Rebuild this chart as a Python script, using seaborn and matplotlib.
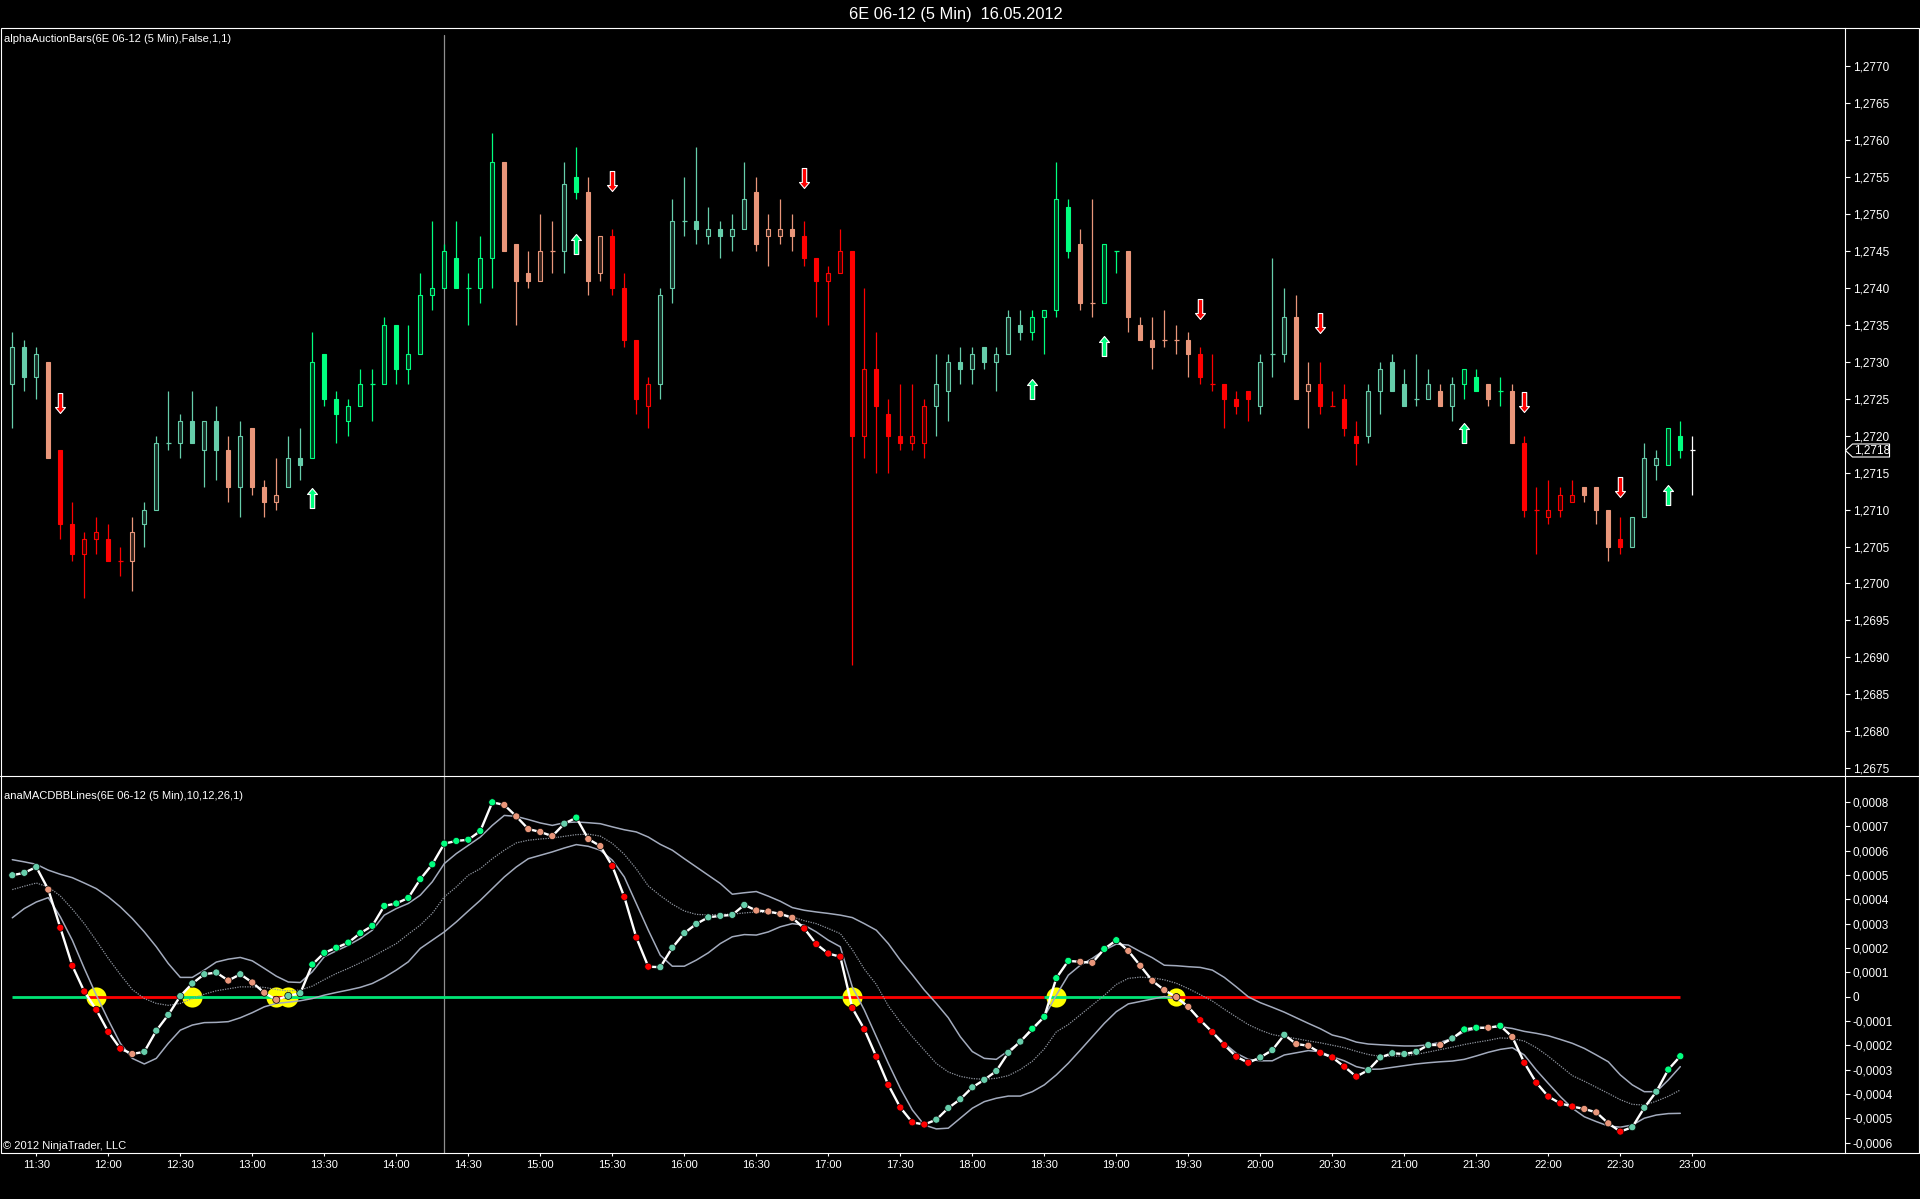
import numpy as np
import pandas as pd
import matplotlib
matplotlib.use("Agg")
import matplotlib.pyplot as plt
import matplotlib.transforms as mtransforms
from matplotlib import font_manager
from matplotlib.colors import to_rgb
from matplotlib.lines import Line2D
from matplotlib.patches import Rectangle
from matplotlib.path import Path
import seaborn as sns

# ---------------- data ----------------
# 5 minute bars of 6E 06-12, first bar 11:20; prices in pips above 1.2700
start_time = "2012-05-16 11:20"

opens = [27, 32, 28, 30, 18, 8, 4, 6, 6, 3,
         3, 8, 10, 19, 19, 22, 18, 22, 18, 13,
         21, 13, 11, 13, 17, 17, 31, 25, 22, 24,
         27, 27, 35, 29, 31, 39, 40, 44, 40, 40,
         44, 57, 46, 42, 41, 45, 45, 55, 53, 42,
         47, 40, 33, 24, 27, 40, 49, 49, 47, 48,
         47, 48, 53, 47, 47, 48, 47, 44, 41, 42,
         45, 20, 29, 23, 20, 19, 19, 24, 26, 30,
         29, 32, 30, 31, 35, 34, 36, 37, 51, 46,
         38, 38, 45, 45, 35, 33, 33, 33, 33, 31,
         27, 27, 25, 26, 24, 31, 31, 36, 26, 27,
         24, 25, 20, 20, 26, 30, 27, 25, 25, 26,
         24, 27, 28, 27, 26, 26, 19, 10, 9, 10,
         11, 13, 13, 10, 6, 5, 9, 16, 16, 20,
         18]
highs = [34, 33, 32, 30, 18, 11, 7, 9, 8, 5,
         9, 11, 20, 26, 23, 26, 22, 24, 20, 22,
         21, 14, 17, 20, 21, 34, 31, 26, 25, 29,
         29, 36, 35, 35, 42, 49, 46, 49, 42, 47,
         61, 57, 46, 45, 50, 49, 57, 59, 55, 47,
         48, 42, 33, 28, 40, 52, 55, 59, 51, 49,
         50, 57, 55, 50, 52, 50, 49, 44, 43, 48,
         45, 40, 34, 25, 27, 27, 25, 31, 31, 32,
         32, 32, 32, 37, 37, 37, 37, 57, 52, 48,
         52, 46, 45, 45, 36, 36, 37, 35, 34, 32,
         31, 27, 26, 26, 31, 44, 40, 39, 30, 30,
         26, 27, 22, 27, 30, 31, 29, 31, 29, 27,
         28, 29, 29, 27, 28, 27, 20, 13, 14, 13,
         14, 13, 13, 10, 9, 9, 19, 18, 21, 22,
         20]
lows = [21, 26, 25, 17, 6, 3, -2, 4, 3, 1,
        -1, 5, 10, 18, 17, 19, 13, 14, 11, 9,
        12, 9, 10, 13, 14, 17, 24, 19, 20, 24,
        22, 27, 27, 27, 31, 37, 40, 40, 35, 38,
        40, 45, 35, 40, 41, 42, 42, 52, 39, 41,
        39, 32, 23, 21, 25, 38, 47, 46, 46, 44,
        45, 48, 45, 43, 46, 45, 43, 36, 35, 42,
        -11, 17, 15, 15, 18, 18, 17, 20, 22, 27,
        27, 29, 26, 31, 33, 33, 31, 36, 44, 37,
        36, 38, 42, 34, 33, 29, 32, 31, 28, 27,
        26, 21, 23, 22, 23, 28, 30, 25, 21, 23,
        24, 20, 16, 19, 23, 26, 24, 24, 25, 24,
        22, 25, 26, 24, 24, 19, 9, 4, 8, 9,
        11, 11, 8, 3, 4, 5, 9, 14, 16, 17,
        12]
closes = [32, 28, 31, 17, 8, 4, 6, 7, 3, 3,
          7, 10, 19, 19, 22, 19, 22, 18, 13, 20,
          13, 11, 12, 17, 16, 30, 25, 23, 24, 27,
          27, 35, 29, 31, 39, 40, 45, 40, 40, 44,
          57, 45, 41, 41, 45, 45, 54, 53, 41, 47,
          40, 33, 25, 27, 39, 49, 49, 48, 48, 47,
          48, 52, 46, 48, 48, 47, 44, 41, 42, 45,
          20, 29, 24, 20, 19, 20, 24, 27, 30, 29,
          31, 30, 31, 36, 34, 36, 37, 52, 45, 38,
          38, 46, 45, 36, 33, 32, 33, 33, 31, 28,
          27, 25, 24, 25, 30, 31, 36, 25, 27, 24,
          24, 21, 19, 26, 29, 26, 24, 25, 27, 24,
          27, 29, 26, 25, 26, 19, 10, 10, 10, 12,
          12, 12, 10, 5, 5, 9, 17, 17, 21, 18,
          18]

# bar state: a = aquamarine, g = spring green, s = salmon, r = red, w = live bar
bar_state = list("aaasrrrrrrsaaaaaaasasssaa" "gggggggggggggggg" "sssssagss"
                 "rrrraaaaaaaassss" "rrrrrrrrrrraaaaaaaaggggssgg" "ssssssrrrrraaass"
                 "rrrraaaaaasaggsgsrrrrrsssraaaggw")

# anaMACDBBLines values in units of 0.0001 (finished bars only)
macd_vals = [4.99, 5.09, 5.33, 4.40, 2.83, 1.27, 0.21, -0.54, -1.45, -2.14,
             -2.36, -2.27, -1.40, -0.75, 0.02, 0.54, 0.92, 0.99, 0.66, 0.92,
             0.58, 0.16, -0.13, 0.03, 0.14, 1.32, 1.80, 2.01, 2.22, 2.61,
             2.91, 3.73, 3.83, 4.06, 4.83, 5.44, 6.29, 6.40, 6.45, 6.81,
             7.99, 7.88, 7.41, 6.89, 6.77, 6.60, 7.11, 7.36, 6.48, 6.19,
             5.37, 4.10, 2.43, 1.23, 1.21, 2.01, 2.61, 2.99, 3.26, 3.32,
             3.36, 3.77, 3.54, 3.50, 3.40, 3.24, 2.80, 2.16, 1.77, 1.64,
             -0.47, -1.34, -2.47, -3.63, -4.56, -5.17, -5.26, -5.06, -4.58, -4.22,
             -3.73, -3.42, -3.06, -2.31, -1.85, -1.32, -0.83, 0.76, 1.47, 1.43,
             1.39, 1.96, 2.32, 1.88, 1.27, 0.65, 0.27, -0.02, -0.42, -0.97,
             -1.46, -1.99, -2.47, -2.72, -2.50, -2.20, -1.57, -1.95, -2.02, -2.31,
             -2.50, -2.88, -3.29, -3.02, -2.50, -2.33, -2.36, -2.27, -1.99, -1.99,
             -1.72, -1.35, -1.28, -1.28, -1.20, -1.66, -2.72, -3.54, -4.11, -4.39,
             -4.52, -4.62, -4.76, -5.21, -5.55, -5.37, -4.57, -3.91, -3.00, -2.45]
upper_vals = [5.63, 5.54, 5.44, 5.20, 5.03, 4.89, 4.67, 4.44, 4.10, 3.69,
              3.21, 2.66, 2.05, 1.36, 0.79, 0.79, 1.09, 1.42, 1.54, 1.61,
              1.47, 1.16, 0.84, 0.60, 0.58, 1.02, 1.64, 1.88, 2.11, 2.39,
              2.73, 3.35, 3.62, 3.83, 4.17, 4.72, 5.47, 5.88, 6.22, 6.56,
              7.04, 7.45, 7.41, 7.28, 7.14, 7.04, 7.15, 7.18, 7.15, 7.11,
              6.98, 6.86, 6.77, 6.56, 6.26, 6.02, 5.67, 5.33, 4.99, 4.65,
              4.21, 4.27, 4.32, 4.13, 3.92, 3.66, 3.55, 3.48, 3.42, 3.35,
              3.25, 3.00, 2.73, 2.18, 1.50, 0.90, 0.27, -0.28, -0.87, -1.65,
              -2.26, -2.54, -2.58, -2.23, -1.86, -1.38, -0.83, 0.06, 0.88, 1.29,
              1.57, 1.91, 2.16, 2.12, 1.85, 1.60, 1.29, 1.27, 1.23, 1.20,
              1.09, 0.79, 0.40, -0.01, -0.25, -0.44, -0.64, -0.87, -1.10, -1.32,
              -1.58, -1.70, -1.87, -1.95, -1.98, -2.01, -2.03, -2.03, -1.98, -1.88,
              -1.72, -1.44, -1.32, -1.27, -1.24, -1.31, -1.43, -1.51, -1.61, -1.76,
              -1.92, -2.13, -2.40, -2.68, -3.22, -3.63, -3.91, -3.91, -3.43, -2.88]
middle_vals = [4.40, 4.54, 4.67, 4.51, 4.14, 3.60, 3.00, 2.30, 1.57, 0.91,
               0.29, -0.08, -0.28, -0.36, -0.28, -0.08, 0.10, 0.24, 0.32, 0.40,
               0.40, 0.38, 0.29, 0.23, 0.27, 0.43, 0.70, 0.95, 1.16, 1.39,
               1.64, 1.91, 2.18, 2.57, 2.94, 3.42, 4.10, 4.51, 4.99, 5.26,
               5.67, 6.02, 6.32, 6.43, 6.48, 6.52, 6.59, 6.66, 6.68, 6.60,
               6.30, 5.85, 5.25, 4.55, 4.15, 3.80, 3.52, 3.38, 3.36, 3.38,
               3.39, 3.44, 3.48, 3.45, 3.42, 3.28, 3.12, 3.00, 2.80, 2.59,
               1.93, 1.13, 0.50, -0.38, -1.05, -1.65, -2.20, -2.75, -3.10, -3.28,
               -3.37, -3.40, -3.36, -3.25, -3.00, -2.66, -2.15, -1.45, -1.15, -0.75,
               -0.35, 0.05, 0.50, 0.75, 0.80, 0.77, 0.69, 0.55, 0.33, 0.08,
               -0.18, -0.52, -0.84, -1.15, -1.38, -1.56, -1.65, -1.73, -1.82, -1.90,
               -2.00, -2.10, -2.25, -2.38, -2.46, -2.46, -2.43, -2.38, -2.28, -2.18,
               -2.08, -1.97, -1.88, -1.80, -1.70, -1.72, -1.83, -2.10, -2.45, -2.85,
               -3.25, -3.48, -3.73, -3.98, -4.24, -4.43, -4.46, -4.30, -4.10, -3.84]
lower_vals = [3.24, 3.62, 3.89, 4.07, 3.28, 2.32, 1.16, 0.06, -0.96, -1.92,
              -2.54, -2.77, -2.54, -1.92, -1.38, -1.17, -1.07, -1.06, -1.03, -0.87,
              -0.66, -0.42, -0.28, -0.23, -0.17, -0.08, 0.06, 0.17, 0.27, 0.38,
              0.54, 0.79, 1.09, 1.43, 1.98, 2.32, 2.66, 3.07, 3.52, 3.96,
              4.44, 4.92, 5.33, 5.67, 5.81, 5.95, 6.11, 6.25, 6.18, 6.02,
              5.61, 4.92, 3.83, 2.73, 1.70, 1.25, 1.25, 1.50, 1.80, 2.18,
              2.46, 2.55, 2.53, 2.66, 2.87, 3.00, 2.94, 2.66, 2.32, 2.05,
              0.40, -0.55, -1.65, -2.74, -3.77, -4.66, -5.28, -5.44, -5.41, -5.00,
              -4.59, -4.32, -4.18, -4.09, -4.09, -3.91, -3.63, -3.22, -2.74, -2.20,
              -1.65, -1.10, -0.62, -0.30, -0.20, -0.10, 0.00, -0.08, -0.42, -0.97,
              -1.45, -1.92, -2.33, -2.58, -2.64, -2.64, -2.40, -2.31, -2.22, -2.27,
              -2.47, -2.64, -2.88, -2.99, -2.98, -2.91, -2.84, -2.77, -2.72, -2.68,
              -2.65, -2.58, -2.44, -2.29, -2.17, -2.10, -2.40, -3.02, -3.57, -4.11,
              -4.59, -4.94, -5.14, -5.32, -5.37, -5.28, -5.00, -4.87, -4.81, -4.80]

# signal arrows (bar index, arrow centre in pips above 1.2700)
down_bars = [4, 50, 66, 99, 109, 126, 134]
down_levels = [24.4, 54.5, 54.9, 37.1, 35.3, 24.6, 13.1]
up_bars = [25, 47, 85, 91, 121, 138]
up_levels = [11.6, 46.0, 26.3, 32.1, 20.3, 12.0]

# MACD zero-line crossings and zero-line trend segments
cross_bars = [7, 15, 22, 23, 70, 87]
cross_open_bars = [97]
zero_bounds = [0, 6.2, 14.0, 21.6, 22.6, 69.2, 86.0, 96.5, 139]
zero_states = ["up", "down", "up", "down", "up", "down", "up", "down"]

last_price = 1.2718
cursor_bar = 36

# ---------------- style ----------------
palette = {"a": "#66CDAA", "g": "#00FF7F", "s": "#E9967A", "r": "#FF0000", "w": "#FFFFFF"}
zero_colors = {"up": "#00E676", "down": "#FF0000"}
band_color = "#A3ABBD"
mid_color = "#8E949E"

sns.set_theme(style="dark")
names = {f.name for f in font_manager.fontManager.ttflist}
if "Liberation Sans Narrow" in names:
    plt.rcParams["font.family"] = ["Liberation Sans Narrow", "DejaVu Sans"]
    fs = 1.07
else:
    plt.rcParams["font.family"] = ["Liberation Sans", "DejaVu Sans"]
    fs = 0.94

W, H = 1920, 1199


def px_box(left, top, right, bottom):
    return [left / W, 1 - bottom / H, (right - left) / W, (bottom - top) / H]


fig = plt.figure(figsize=(W / 100, H / 100), dpi=100, facecolor="black")
ax1 = fig.add_axes(px_box(1, 27.5, 1845, 776))
ax2 = fig.add_axes(px_box(1, 776, 1845, 1153))

for ax in (ax1, ax2):
    ax.set_facecolor("black")
    ax.grid(False)
    for side in ("left", "top", "bottom"):
        ax.spines[side].set_visible(False)
    ax.spines["right"].set_color("white")
    ax.spines["right"].set_linewidth(0.8)
    ax.tick_params(axis="y", which="both", left=False, right=True, labelleft=False,
                   labelright=True, colors="white", direction="out", length=3.6,
                   width=0.8, pad=2, labelsize=9 * fs)

# ---------------- price panel ----------------
x = np.arange(len(opens))
o = 1.27 + np.array(opens) / 1e4
h = 1.27 + np.array(highs) / 1e4
l = 1.27 + np.array(lows) / 1e4
c = 1.27 + np.array(closes) / 1e4
cols = np.array([palette[s] for s in bar_state])
doji = np.array(opens) == np.array(closes)
up = np.array(closes) > np.array(opens)
faces = [tuple(0.22 * np.array(to_rgb(col))) if u else col for col, u in zip(cols, up)]
faces = np.array(faces, dtype=object)

ax1.vlines(x, l, h, colors=cols, lw=0.9, zorder=2)
nd = ~doji
ax1.bar(x[nd], np.abs(c - o)[nd], bottom=np.minimum(o, c)[nd], width=0.36,
        color=list(faces[nd]), edgecolor=list(cols[nd]), linewidth=0.8, zorder=3)
ax1.hlines(c[doji], x[doji] - 0.22, x[doji] + 0.22, colors=cols[doji], lw=0.9, zorder=3)

down_path = Path([(-0.22, 1), (0.22, 1), (0.22, -0.4), (0.5, -0.4), (0, -1),
                  (-0.5, -0.4), (-0.22, -0.4), (-0.22, 1)], closed=True)
up_path = Path([(-0.22, -1), (0.22, -1), (0.22, 0.4), (0.5, 0.4), (0, 1),
                (-0.5, 0.4), (-0.22, 0.4), (-0.22, -1)], closed=True)
ax1.plot(down_bars, 1.27 + np.array(down_levels) / 1e4, linestyle="none", marker=down_path,
         ms=14.4, mfc="#FF0000", mec="white", mew=0.8, zorder=4)
ax1.plot(up_bars, 1.27 + np.array(up_levels) / 1e4, linestyle="none", marker=up_path,
         ms=14.4, mfc="#00FF7F", mec="white", mew=0.8, zorder=4)

ax1.axvline(cursor_bar, ymin=0, ymax=1 - 7 / 748.5, color="#8f8f8f", lw=0.9, zorder=1)

price_ticks = (12675 + 5 * np.arange(20)) / 10000
ax1.set_yticks(price_ticks)
ax1.set_yticklabels([f"{p:.4f}".replace(".", ",") for p in price_ticks])
ax1.set_xticks([])
ax1.set_xlim((1 - 12.3) / 12, (1845 - 12.3) / 12)
ax1.set_ylim(1.2770 - (776 - 66.2) / 7.39 / 1e4, 1.2770 + (66.2 - 27.5) / 7.39 / 1e4)

# current price tag on the axis
blend1 = mtransforms.blended_transform_factory(ax1.transAxes, ax1.transData)
tag_path = Path([(0, 0), (7, 6.5), (44, 6.5), (44, -6.5), (7, -6.5), (0, 0)], closed=True)
ax1.plot([1.0], [last_price], transform=blend1, clip_on=False, marker=tag_path,
         ms=63.4, mfc="black", mec="white", mew=0.8, zorder=6)
ax1.text(1.0049, last_price, f"{last_price:.4f}".replace(".", ","), transform=blend1,
         ha="left", va="center", color="white", fontsize=9 * fs, zorder=7, clip_on=False)

# ---------------- MACD panel ----------------
xm = np.arange(len(macd_vals))
macd = np.array(macd_vals) * 1e-4
upper = np.array(upper_vals) * 1e-4
middle = np.array(middle_vals) * 1e-4
lower = np.array(lower_vals) * 1e-4

ax2.plot(cross_bars, np.zeros(len(cross_bars)), "o", ms=14.5, mfc="#FFFF00", mec="none", zorder=2)
ax2.plot(cross_open_bars, np.zeros(len(cross_open_bars)), "o", ms=9.5, mfc="none",
         mec="#FFFF00", mew=3.6, zorder=2)
for a, b, st in zip(zero_bounds[:-1], zero_bounds[1:], zero_states):
    ax2.plot([a, b], [0, 0], color=zero_colors[st], lw=2.0, solid_capstyle="butt", zorder=3)

sns.lineplot(x=xm, y=upper, ax=ax2, color=band_color, lw=1.1, estimator=None, zorder=3)
sns.lineplot(x=xm, y=lower, ax=ax2, color=band_color, lw=1.1, estimator=None, zorder=3)
sns.lineplot(x=xm, y=middle, ax=ax2, color=mid_color, lw=0.9, linestyle=(0, (1, 1)),
             estimator=None, zorder=3)
sns.lineplot(x=xm, y=macd, ax=ax2, color="white", lw=1.7, estimator=None, zorder=4)
sns.scatterplot(x=xm, y=macd, hue=bar_state[:len(xm)], palette=palette, s=26,
                edgecolor="black", linewidth=0.5, legend=False, zorder=5, ax=ax2)

ax2.axvline(cursor_bar, color="#8f8f8f", lw=0.9, zorder=1)

macd_ticks = np.arange(-6, 9) * 1e-4
ax2.set_yticks(macd_ticks)
ax2.set_yticklabels(["0" if abs(v) < 1e-12 else f"{v:.4f}".replace(".", ",") for v in macd_ticks])
ax2.set_xlim((1 - 12.3) / 12, (1845 - 12.3) / 12)
ax2.set_ylim((996.6 - 1153) / 24.32 * 1e-4, (996.6 - 776) / 24.32 * 1e-4)

bar_times = pd.date_range(start_time, periods=len(opens), freq="5min")
tick_idx = [i for i, t in enumerate(bar_times) if t.minute % 30 == 0]
ax2.set_xticks(tick_idx)
ax2.set_xticklabels([bar_times[i].strftime("%H:%M") for i in tick_idx])
ax2.tick_params(axis="x", bottom=True, top=False, colors="white", length=2.2, width=0.8,
                pad=3, labelsize=8.5 * fs)
ax2.set_xlabel("")
ax2.set_ylabel("")

# ---------------- frame and texts ----------------
fig.add_artist(Rectangle((0.5 / W, 1 - 1153 / H), (1919 - 0.5) / W, (1153 - 27.5) / H,
                         transform=fig.transFigure, fill=False, ec="white", lw=0.8, zorder=10))
fig.add_artist(Line2D([0, 1], [1 - 776 / H, 1 - 776 / H], transform=fig.transFigure,
                      color="white", lw=0.8, zorder=10))

fig.text(956 / W, 1 - 14.5 / H, "6E 06-12 (5 Min)  16.05.2012", ha="center", va="center",
         color="white", fontsize=12.5 * fs)
fig.text(4 / W, 1 - 39 / H, "alphaAuctionBars(6E 06-12 (5 Min),False,1,1)", ha="left",
         va="center", color="white", fontsize=8.5 * fs)
fig.text(4 / W, 1 - 796 / H, "anaMACDBBLines(6E 06-12 (5 Min),10,12,26,1)", ha="left",
         va="center", color="white", fontsize=8.5 * fs)
fig.text(3 / W, 1 - 1146 / H, "\u00a9 2012 NinjaTrader, LLC", ha="left", va="center",
         color="white", fontsize=8.5 * fs)

fig.savefig("out.png", dpi=100, facecolor="black")
